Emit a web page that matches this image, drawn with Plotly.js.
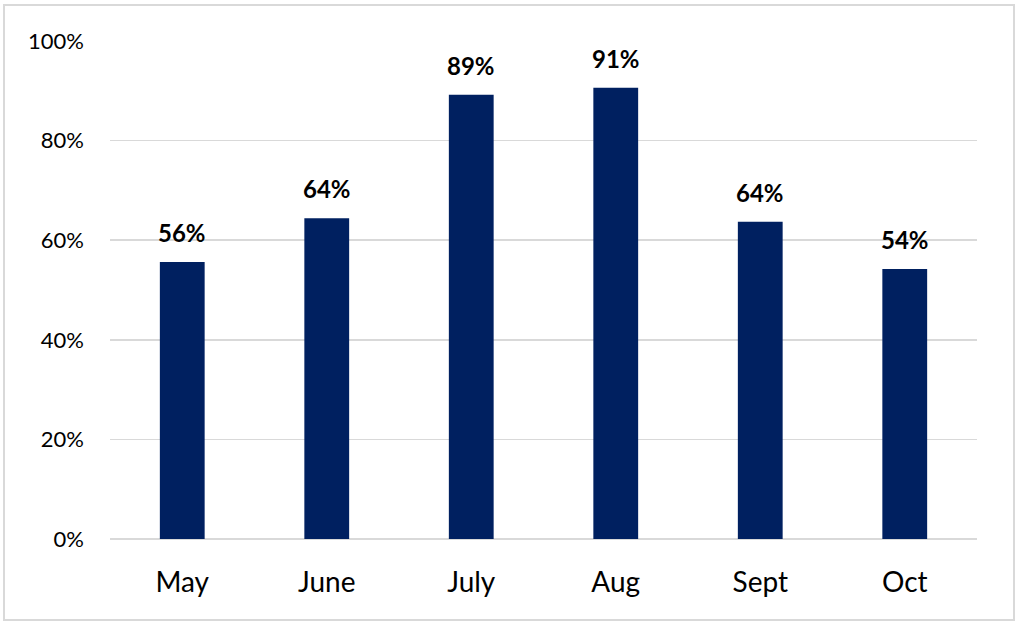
<!DOCTYPE html>
<html>
<head>
<meta charset="utf-8">
<script src="https://cdn.plot.ly/plotly-3.0.1.min.js"></script>
<style>
  html, body { margin: 0; padding: 0; background: #fff; }
  #wrap { position: relative; width: 1020px; height: 628px; }
  #chart { width: 1020px; height: 628px; }
  #frame { position: absolute; left: 3px; top: 4px; width: 1008px; height: 613px;
           border: 2px solid #d9d9d9; pointer-events: none; }
</style>
</head>
<body>
<div id="wrap">
  <div id="chart"></div>
  <div id="frame"></div>
</div>
<script>
const months = ["May", "June", "July", "Aug", "Sept", "Oct"];
const shares = [0.556, 0.644, 0.892, 0.906, 0.637, 0.542];
const yTicks = [0, 0.2, 0.4, 0.6, 0.8, 1.0];

const fmtPct = v => Math.round(v * 100) + "%";

const trace = {
  type: "bar",
  x: months,
  y: shares,
  marker: { color: "#002060" },
  hoverinfo: "skip"
};

const annotations = months.map((m, i) => ({
  x: m,
  y: shares[i],
  xref: "x",
  yref: "y",
  text: fmtPct(shares[i]),
  showarrow: false,
  yanchor: "bottom",
  yshift: 13,
  font: { family: "Lato, 'Open Sans', sans-serif", size: 24, color: "#000", weight: "bold" }
}));

const layout = {
  width: 1020,
  height: 628,
  margin: { l: 110, r: 43, t: 41, b: 89 },
  paper_bgcolor: "#fff",
  plot_bgcolor: "#fff",
  showlegend: false,
  bargap: 0.69,
  font: { family: "Lato, 'Open Sans', sans-serif", color: "#000" },
  xaxis: {
    type: "category",
    showgrid: false,
    showline: false,
    zeroline: false,
    ticks: "",
    ticklabelstandoff: 24,
    tickfont: { size: 28, color: "#000" }
  },
  yaxis: {
    range: [0, 1],
    tickvals: yTicks,
    ticktext: yTicks.map(fmtPct),
    showgrid: true,
    gridcolor: "#d9d9d9",
    gridwidth: 1.5,
    zeroline: true,
    zerolinecolor: "#d9d9d9",
    zerolinewidth: 1.5,
    showline: false,
    ticks: "",
    ticklabelstandoff: 25,
    tickfont: { size: 22, color: "#000" }
  },
  annotations: annotations
};

Plotly.newPlot("chart", [trace], layout, { displayModeBar: false, staticPlot: true });
</script>
</body>
</html>
